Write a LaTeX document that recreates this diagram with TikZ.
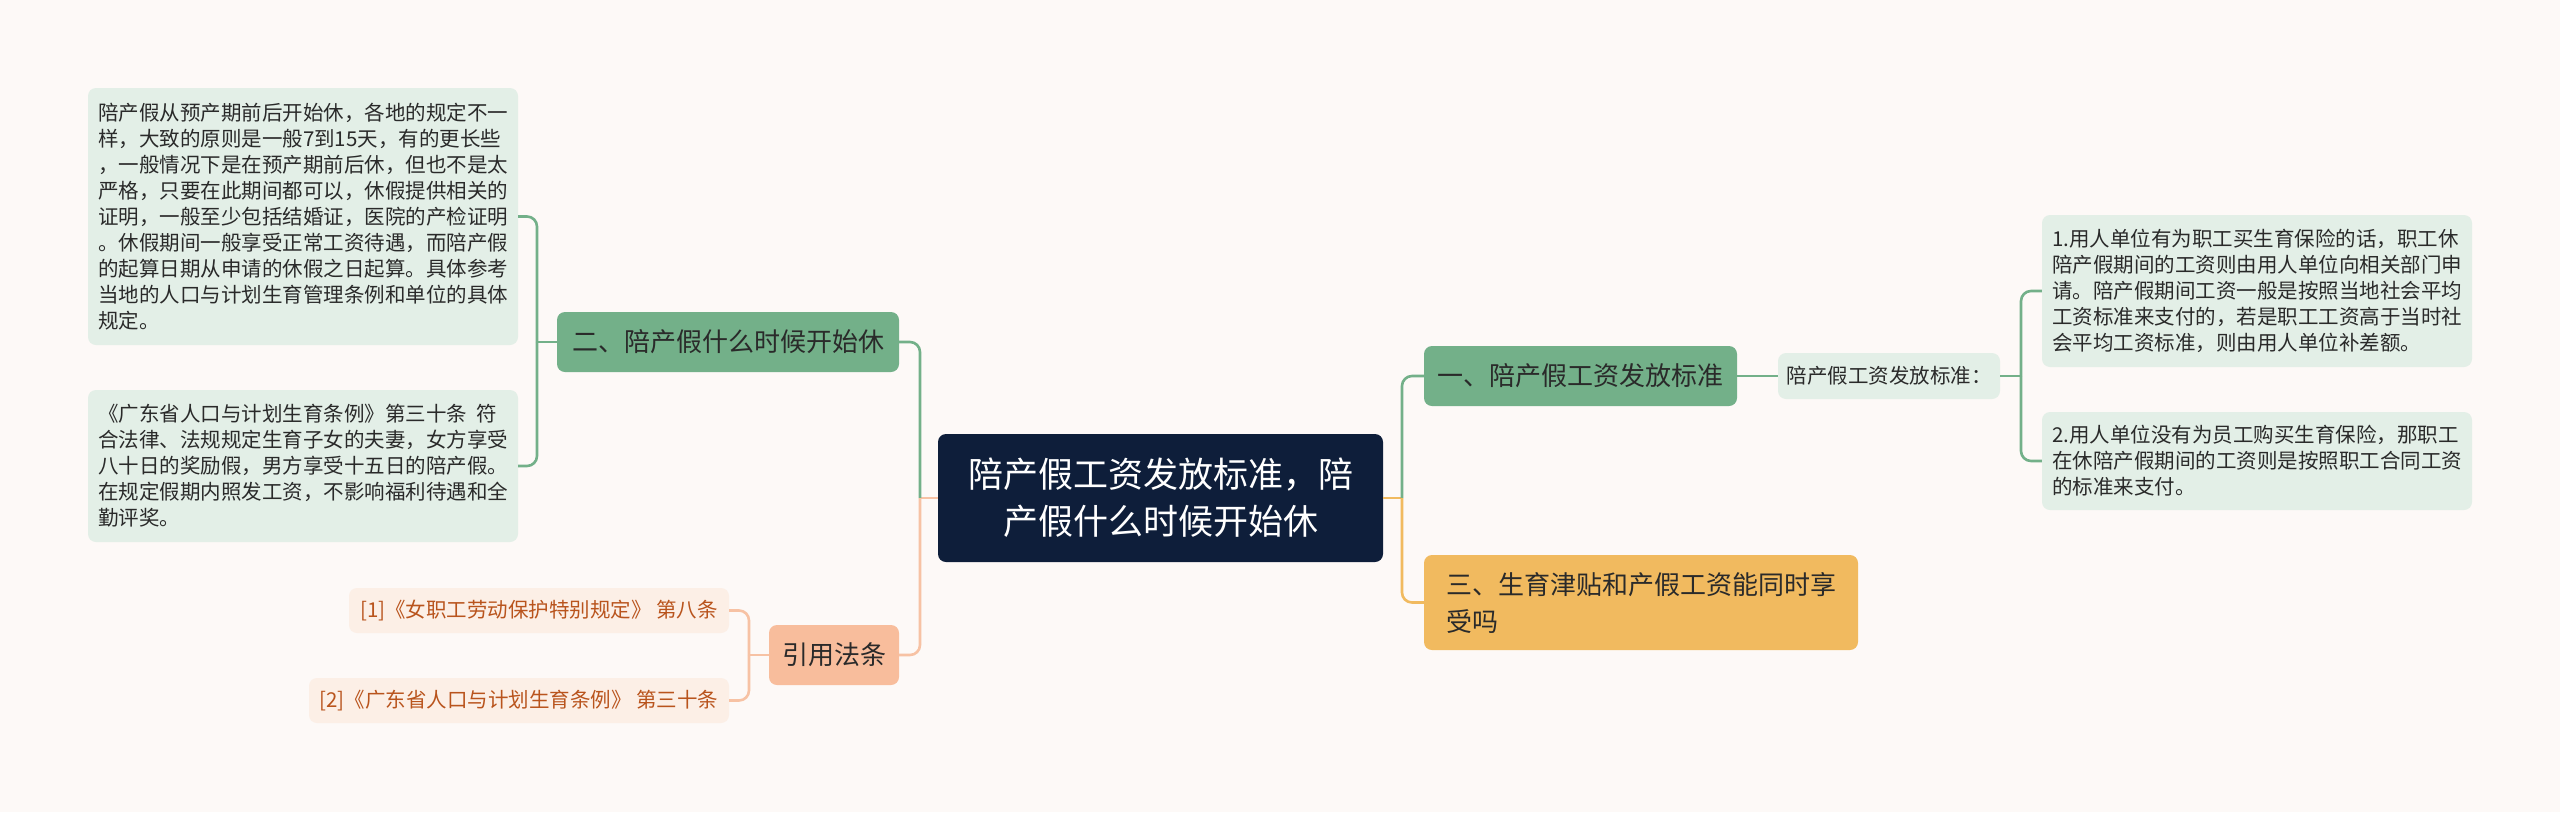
\documentclass[tikz,border=0pt]{standalone}
\usepackage{fontspec}
\setmainfont{Noto Sans CJK SC}
\usetikzlibrary{calc}

\definecolor{bgpaper}{HTML}{FDF9F7}
\definecolor{rootnavy}{HTML}{0E1E3A}
\definecolor{topicgreen}{HTML}{73B089}
\definecolor{leafmint}{HTML}{E3EFE7}
\definecolor{topicyellow}{HTML}{F1BA5F}
\definecolor{topicsalmon}{HTML}{F8BD9C}
\definecolor{linksalmon}{HTML}{F7C2A4}
\definecolor{refpaper}{HTML}{FCEFE6}
\definecolor{reftext}{HTML}{B9541D}
\definecolor{inktext}{HTML}{2A2A2A}

\begin{document}
\begin{tikzpicture}[
  x=1pt, y=-1pt,
  every node/.style={inner sep=0pt, align=left},
  rootbox/.style={rectangle, rounded corners=8pt, fill=rootnavy, text=white,
    align=center, font=\fontsize{35}{47}\selectfont},
  topicbox/.style={rectangle, rounded corners=8pt, fill=topicgreen, text=inktext,
    minimum height=60pt, font=\fontsize{26}{37}\selectfont},
  leafbox/.style={rectangle, rounded corners=8pt, fill=leafmint, text=inktext,
    font=\fontsize{20.5}{26}\selectfont},
  refbox/.style={rectangle, rounded corners=8pt, fill=refpaper, text=reftext,
    minimum height=45pt, font=\fontsize{20.5}{26}\selectfont},
  glink/.style={draw=topicgreen, line width=2.6pt, rounded corners=10pt},
  olink/.style={draw=linksalmon, line width=2.6pt, rounded corners=10pt},
  ylink/.style={draw=topicyellow, line width=2.6pt, rounded corners=10pt}
]
\useasboundingbox (0,0) rectangle (2560,812);
\fill[bgpaper] (0,0) rectangle (2560,812);

% ====== ROOT ======
\node[rootbox, minimum width=445pt, minimum height=128pt] (root) at (1160.5,498)
  {陪产假工资发放标准，陪\\产假什么时候开始休};

% ====== LEFT BRANCHES ======
\node[topicbox, minimum width=342pt] (two) at (728,342) {二、陪产假什么时候开始休};
\node[topicbox, fill=topicsalmon, minimum width=130pt] (cite) at (834,655) {引用法条};

\node[leafbox, minimum width=430pt, minimum height=257pt] (ltop) at (303,216.5) {%
  陪产假从预产期前后开始休，各地的规定不一\\
  样，大致的原则是一般7到15天，有的更长些\\
  ，一般情况下是在预产期前后休，但也不是太\\
  严格，只要在此期间都可以，休假提供相关的\\
  证明，一般至少包括结婚证，医院的产检证明\\
  。休假期间一般享受正常工资待遇，而陪产假\\
  的起算日期从申请的休假之日起算。具体参考\\
  当地的人口与计划生育管理条例和单位的具体\\
  规定。};
\node[leafbox, minimum width=430pt, minimum height=152pt] (lbot) at (303,466) {%
  《广东省人口与计划生育条例》第三十条\ \ 符\\
  合法律、法规规定生育子女的夫妻，女方享受\\
  八十日的奖励假，男方享受十五日的陪产假。\\
  在规定假期内照发工资，不影响福利待遇和全\\
  勤评奖。};

\node[refbox, minimum width=380pt] (refa) at (539,610.5)
  {[1]《女职工劳动保护特别规定》 第八条};
\node[refbox, minimum width=420pt] (refb) at (519,700.5)
  {[2]《广东省人口与计划生育条例》 第三十条};

% ====== RIGHT BRANCHES ======
\node[topicbox, minimum width=313pt] (one) at (1580.5,376) {一、陪产假工资发放标准};
\node[topicbox, fill=topicyellow, minimum width=434pt, minimum height=95pt] (three)
  at (1641,602.5) {三、生育津贴和产假工资能同时享\\受吗};

\node[leafbox, minimum width=222pt, minimum height=46pt] (mid) at (1889,376)
  {陪产假工资发放标准：};

\node[leafbox, minimum width=430pt, minimum height=152pt] (rtop) at (2257,291) {%
  1.用人单位有为职工买生育保险的话，职工休\\
  陪产假期间的工资则由用人单位向相关部门申\\
  请。陪产假期间工资一般是按照当地社会平均\\
  工资标准来支付的，若是职工工资高于当时社\\
  会平均工资标准，则由用人单位补差额。};
\node[leafbox, minimum width=430pt, minimum height=98pt] (rbot) at (2257,461) {%
  2.用人单位没有为员工购买生育保险，那职工\\
  在休陪产假期间的工资则是按照职工合同工资\\
  的标准来支付。};

% ====== CONNECTORS ======
\coordinate (jL) at (920,498);
\coordinate (jR) at (1402,498);
\coordinate (jTwo) at (537,342);
\coordinate (jCite) at (749,655);
\coordinate (jMid) at (2021,376);

\draw[olink] (root.west) -- (jL);
\draw[glink] (jL) |- (two.east);
\draw[olink] (jL) |- (cite.east);
\draw[ylink] (root.east) -- (jR);
\draw[glink] (jR) |- (one.west);
\draw[ylink] (jR) |- (three.west);

\draw[glink] (two.west) -- (jTwo);
\draw[glink] (jTwo) |- (ltop.east);
\draw[glink] (jTwo) |- (lbot.east);

\draw[olink] (cite.west) -- (jCite);
\draw[olink] (jCite) |- (refa.east);
\draw[olink] (jCite) |- (refb.east);

\draw[glink] (one.east) -- (mid.west);
\draw[glink] (mid.east) -- (jMid);
\draw[glink] (jMid) |- (rtop.west);
\draw[glink] (jMid) |- (rbot.west);

\end{tikzpicture}
\end{document}
